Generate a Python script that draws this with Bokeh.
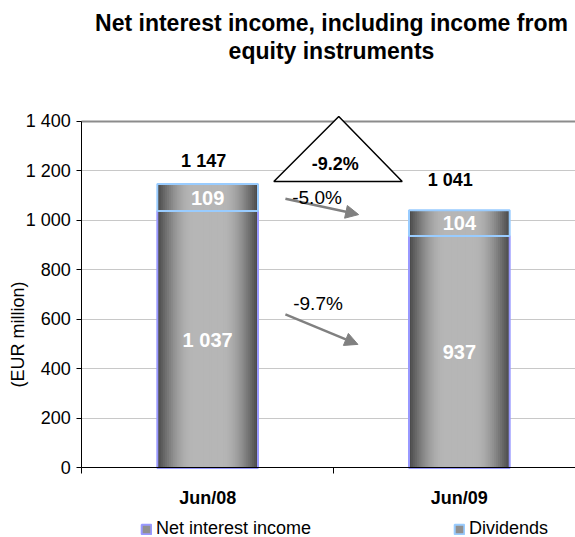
import math
from bokeh.plotting import figure
from bokeh.models import (Range1d, FixedTicker, Label, PolyAnnotation, Arrow, Grid,
                          NormalHead, Legend, LegendItem, ColumnDataSource)
from bokeh.core.properties import value
from bokeh.embed import file_html
from bokeh.resources import INLINE

# ---------------- data ----------------
categories = ["Jun/08", "Jun/09"]
net_interest_income = [1037, 937]
dividends = [109, 104]
totals = [1147, 1041]
change_total = "-9.2%"
change_dividends = "-5.0%"
change_nii = "-9.7%"
yticks = [0, 200, 400, 600, 800, 1000, 1200, 1400]
title_lines = ["Net interest income, including income from", "equity instruments"]
y_title = "(EUR million)"
legend_labels = ["Net interest income", "Dividends"]

# ---------------- style / layout ----------------
FONT = "Liberation Sans"
NII_BORDER = "#9999ff"
DIV_BORDER = "#99ccff"
DARK = (0x4c, 0x4c, 0x4c)
LIGHT = (0xb6, 0xb6, 0xb6)
BAR_W = 0.4
X0, X1 = -0.3230, 1.9615      # frame covers the whole canvas
Y0, Y1 = -280.6, 1887.3


def fmt(v):
    return f"{v:,}".replace(",", " ")


xc = [i + 0.5 for i in range(len(categories))]
tops = [a + b for a, b in zip(net_interest_income, dividends)]
src = ColumnDataSource(dict(
    x=xc,
    nii=net_interest_income,
    div=dividends,
    top=tops,
    zero=[0] * len(xc),
    nii_mid=[v / 2 for v in net_interest_income],
    div_mid=[a + b / 2 for a, b in zip(net_interest_income, dividends)],
    nii_lbl=[fmt(v) for v in net_interest_income],
    div_lbl=[fmt(v) for v in dividends],
    tot=totals,
    tot_lbl=[fmt(v) for v in totals],
    tot_dx=[-4, -9],
    tot_dy=[-23, -30],
))

p = figure(width=575, height=537, output_backend="svg", toolbar_location=None,
           x_range=Range1d(X0, X1), y_range=Range1d(Y0, Y1),
           min_border_left=0, min_border_right=0, min_border_top=0,
           min_border_bottom=0)
p.title.visible = False
p.outline_line_color = None
p.background_fill_color = "white"
p.border_fill_color = "white"

# grid
p.xgrid.grid_line_color = None
p.ygrid.ticker = FixedTicker(ticks=yticks)
p.ygrid.grid_line_color = "#c8c8c8"
p.ygrid.grid_line_width = 1
p.ygrid.cross_bounds = (0, X1)
# darker top border line of plot area
p.add_layout(Grid(dimension=1, ticker=FixedTicker(ticks=[yticks[-1]]),
                  cross_bounds=(0, X1), grid_line_color="#8c8c8c",
                  grid_line_width=2))


def gradient_bar(bottom, top, border):
    n = 26
    mid = None
    for k in range(n):
        f = 1 - k / n
        t = min(1.0, (1 - f) / 0.7)
        t = math.sin(t * math.pi / 2)
        c = tuple(int(round(d + (l - d) * t)) for d, l in zip(DARK, LIGHT))
        col = "#%02x%02x%02x" % c
        r = p.vbar(x="x", width=BAR_W * f, bottom=bottom, top=top, source=src,
                   fill_color=col, line_color=None)
        if k == n // 3:
            mid = r
    b = p.vbar(x="x", width=BAR_W, bottom=bottom, top=top, source=src,
               fill_alpha=0, line_color=border, line_width=2)
    return mid, b


mid_nii, border_nii = gradient_bar("zero", "nii", NII_BORDER)
mid_div, border_div = gradient_bar("nii", "top", DIV_BORDER)

# in-bar labels
p.text(x="x", y="nii_mid", text="nii_lbl", source=src, text_align="center",
       text_baseline="middle", text_color="white", text_font=value(FONT),
       text_font_style="bold", text_font_size="20px")
p.text(x="x", y="div_mid", text="div_lbl", source=src, text_align="center",
       text_baseline="middle", text_color="white", text_font=value(FONT),
       text_font_style="bold", text_font_size="20px")
# totals
p.text(x="x", y="tot", text="tot_lbl", source=src, x_offset="tot_dx",
       y_offset="tot_dy", text_align="center", text_baseline="middle",
       text_color="black", text_font=value(FONT), text_font_style="bold",
       text_font_size="18px")

# axes (fixed inside the frame)
yax = p.yaxis[0]
yax.fixed_location = 0
yax.bounds = (yticks[0], yticks[-1])
yax.ticker = FixedTicker(ticks=yticks)
yax.major_label_overrides = {v: fmt(v) for v in yticks}
yax.major_tick_out = 5
yax.major_tick_in = 0
yax.minor_tick_line_color = None
yax.axis_line_color = "black"
yax.major_tick_line_color = "black"
yax.major_label_standoff = 6
yax.major_label_text_font = FONT
yax.major_label_text_font_size = "18px"
yax.major_label_text_color = "black"

xax = p.xaxis[0]
xax.fixed_location = 0
xax.bounds = (0, X1)
xax.ticker = FixedTicker(ticks=xc, minor_ticks=[0, 1, 2])
xax.major_label_overrides = {xc[i]: categories[i] for i in range(len(categories))}
xax.major_tick_line_color = None
xax.major_tick_out = 0
xax.major_tick_in = 0
xax.minor_tick_out = 6
xax.minor_tick_in = 0
xax.minor_tick_line_color = "black"
xax.axis_line_color = "black"
xax.major_label_standoff = 14
xax.major_label_text_font = FONT
xax.major_label_text_font_style = "bold"
xax.major_label_text_font_size = "18px"
xax.major_label_text_color = "black"

# y-axis title
p.add_layout(Label(x=-0.2527, y=539, text=y_title, angle=math.pi / 2,
                   text_align="center", text_baseline="middle",
                   text_font=FONT, text_font_size="18px", text_color="black"))

# chart title
p.add_layout(Label(x=0.992, y=1798, text=title_lines[0], text_align="center",
                   text_baseline="middle", text_font=FONT, text_font_style="bold",
                   text_font_size="23px", text_color="black"))
p.add_layout(Label(x=0.992, y=1685, text=title_lines[1], text_align="center",
                   text_baseline="middle", text_font=FONT, text_font_style="bold",
                   text_font_size="23px", text_color="black"))

# change triangle
p.add_layout(PolyAnnotation(xs=[0.763, 1.021, 1.273], ys=[1156.6, 1419, 1156.6],
                            fill_color="white", fill_alpha=1, line_color="black",
                            line_alpha=1, line_width=1.5))
p.add_layout(Label(x=1.007, y=1229, text=change_total, text_align="center",
                   text_baseline="middle", text_font=FONT, text_font_style="bold",
                   text_font_size="18px", text_color="black"))

# change arrows
for (x0, y0, x1, y1) in [(0.809, 1087, 1.100, 1023), (0.809, 620, 1.097, 499)]:
    p.add_layout(Arrow(x_start=x0, y_start=y0, x_end=x1, y_end=y1,
                       line_color="#808080", line_width=2.5,
                       end=NormalHead(size=13, fill_color="#808080",
                                      line_color="#808080", line_width=1)))
p.add_layout(Label(x=0.836, y=1092, text=change_dividends, text_align="left",
                   text_baseline="middle", text_font=FONT, text_font_size="19px",
                   text_color="black"))
p.add_layout(Label(x=0.840, y=665, text=change_nii, text_align="left",
                   text_baseline="middle", text_font=FONT, text_font_size="19px",
                   text_color="black"))

# legend (two entries positioned separately)
for i, (rs, lx) in enumerate([([mid_nii, border_nii], 140), ([mid_div, border_div], 453)]):
    lg = Legend(items=[LegendItem(label=legend_labels[i], renderers=rs)],
                location=(lx, -2), orientation="horizontal", padding=0, margin=0,
                glyph_width=12, glyph_height=12, label_standoff=4,
                label_text_font=FONT, label_text_font_size="18px",
                label_text_color="black", border_line_alpha=0,
                background_fill_alpha=0)
    p.add_layout(lg, "center")

open("out.html", "w").write(file_html(p, INLINE))
